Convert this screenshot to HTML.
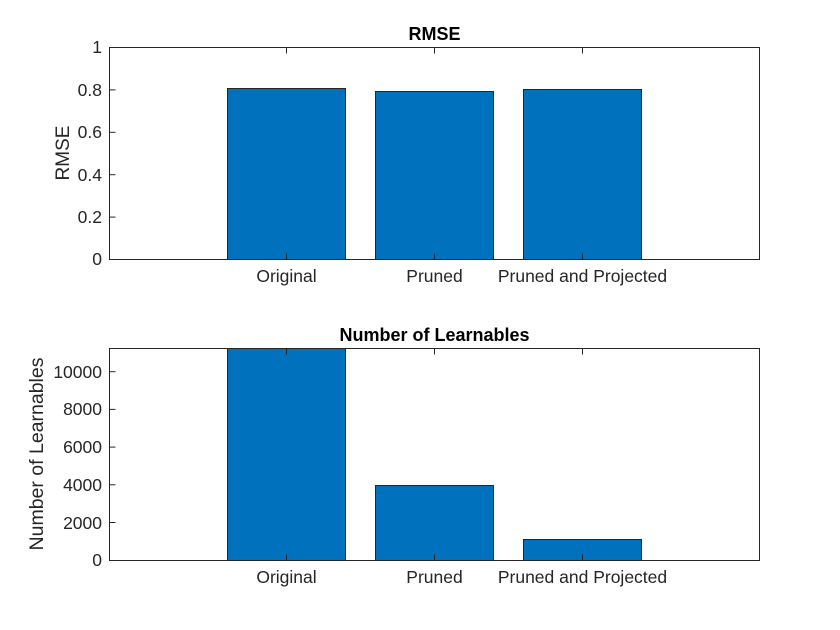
<!DOCTYPE html>
<html><head><style>body{margin:0;background:#fff}svg{display:block}</style></head><body>
<svg width="840" height="630" xmlns="http://www.w3.org/2000/svg" font-family="Liberation Sans, Arial, sans-serif">
<rect width="840" height="630" fill="#fff"/>
<g stroke="#262626" stroke-width="1" fill="#0072bd">
<rect x="227.5" y="88.5" width="118" height="171"/>
<rect x="375.5" y="91.5" width="118" height="168"/>
<rect x="523.5" y="89.5" width="118" height="170"/>
</g>
<rect x="109.5" y="47.5" width="650" height="212" fill="none" stroke="#262626"/>
<g stroke="#262626">
<line x1="109.5" y1="89.9" x2="115.5" y2="89.9"/><line x1="109.5" y1="132.3" x2="115.5" y2="132.3"/>
<line x1="109.5" y1="174.7" x2="115.5" y2="174.7"/><line x1="109.5" y1="217.1" x2="115.5" y2="217.1"/>
<line x1="286.5" y1="259.5" x2="286.5" y2="253.5"/><line x1="434.5" y1="259.5" x2="434.5" y2="253.5"/><line x1="582.5" y1="259.5" x2="582.5" y2="253.5"/>
<line x1="286.5" y1="47.5" x2="286.5" y2="53.5"/><line x1="434.5" y1="47.5" x2="434.5" y2="53.5"/><line x1="582.5" y1="47.5" x2="582.5" y2="53.5"/>
</g>
<g font-size="17.5" fill="#262626" text-anchor="end">
<text x="102" y="53">1</text><text x="102" y="96">0.8</text><text x="102" y="138">0.6</text>
<text x="102" y="181">0.4</text><text x="102" y="223">0.2</text><text x="102" y="265">0</text>
</g>
<g font-size="17.5" fill="#262626" text-anchor="middle">
<text x="286.5" y="282">Original</text><text x="434.5" y="282">Pruned</text><text x="582.5" y="282">Pruned and Projected</text>
</g>
<text x="434.5" y="40" font-size="18" font-weight="bold" text-anchor="middle" fill="#000">RMSE</text>
<text transform="translate(69,153) rotate(-90)" font-size="19" text-anchor="middle" fill="#262626">RMSE</text>

<g stroke="#262626" stroke-width="1" fill="#0072bd">
<rect x="227.5" y="348.5" width="118" height="212"/>
<rect x="375.5" y="485.5" width="118" height="75"/>
<rect x="523.5" y="539.5" width="118" height="21"/>
</g>
<rect x="109.5" y="348.5" width="650" height="212" fill="none" stroke="#262626"/>
<g stroke="#262626">
<line x1="109.5" y1="371.7" x2="115.5" y2="371.7"/><line x1="109.5" y1="409.4" x2="115.5" y2="409.4"/>
<line x1="109.5" y1="447.1" x2="115.5" y2="447.1"/><line x1="109.5" y1="484.8" x2="115.5" y2="484.8"/>
<line x1="109.5" y1="522.5" x2="115.5" y2="522.5"/>
<line x1="286.5" y1="560.5" x2="286.5" y2="554.5"/><line x1="434.5" y1="560.5" x2="434.5" y2="554.5"/><line x1="582.5" y1="560.5" x2="582.5" y2="554.5"/>
<line x1="286.5" y1="348.5" x2="286.5" y2="354.5"/><line x1="434.5" y1="348.5" x2="434.5" y2="354.5"/><line x1="582.5" y1="348.5" x2="582.5" y2="354.5"/>
</g>
<g font-size="17.5" fill="#262626" text-anchor="end">
<text x="102" y="378">10000</text><text x="102" y="415">8000</text><text x="102" y="453">6000</text>
<text x="102" y="491">4000</text><text x="102" y="529">2000</text><text x="102" y="566">0</text>
</g>
<g font-size="17.5" fill="#262626" text-anchor="middle">
<text x="286.5" y="583">Original</text><text x="434.5" y="583">Pruned</text><text x="582.5" y="583">Pruned and Projected</text>
</g>
<text x="434.5" y="341" font-size="18" font-weight="bold" text-anchor="middle" fill="#000">Number of Learnables</text>
<text transform="translate(43,454) rotate(-90)" font-size="19.5" text-anchor="middle" fill="#262626">Number of Learnables</text>
</svg>
</body></html>
